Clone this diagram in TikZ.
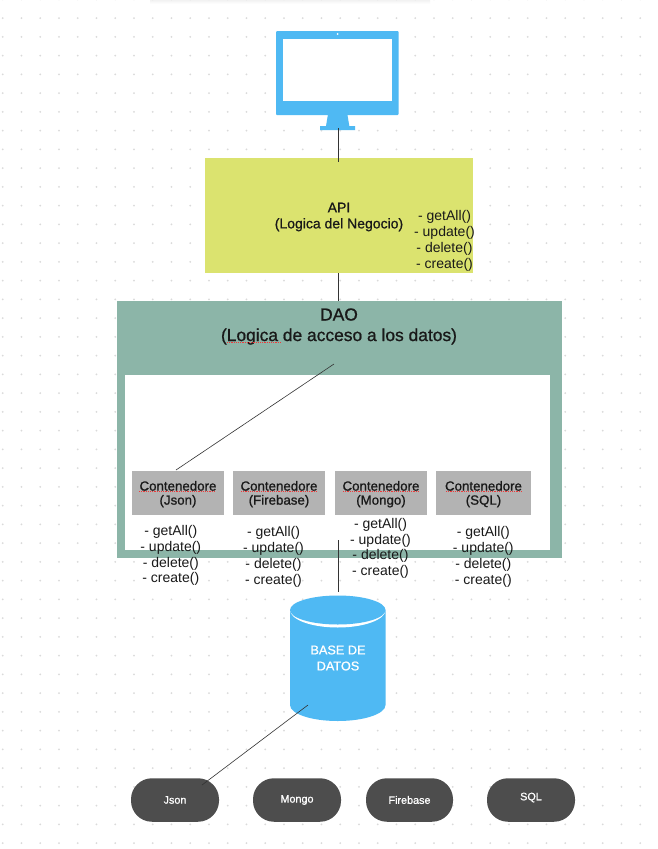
\documentclass[tikz,border=0pt]{standalone}
\usepackage{fontspec}
\setmainfont{Liberation Sans}
\definecolor{skyb}{HTML}{4FB9F3}
\definecolor{apig}{HTML}{DBE36F}
\definecolor{daog}{HTML}{8CB5A8}
\definecolor{contg}{HTML}{B3B3B3}
\definecolor{pillg}{HTML}{4D4D4D}
\definecolor{wire}{HTML}{333333}
\definecolor{griddot}{HTML}{DADADA}
\definecolor{spellred}{HTML}{F03A3A}
\newcommand{\medfont}{\addfontfeature{FakeBold=0.9}}
\tikzset{
  x=1pt,y=-1pt,
  wireline/.style={draw=wire,line width=0.8pt},
  contbox/.style={fill=contg,minimum width=92pt,minimum height=44pt,inner sep=0pt},
  contlabel/.style={inner sep=0pt,align=center,font=\fontsize{13.3}{14}\selectfont\medfont,text=black!90,yshift=-1.2pt},
  methods/.style={inner sep=0pt,align=center,font=\fontsize{14}{15.8}\selectfont,text=black!90},
  pill/.style={fill=pillg,rounded corners=21pt,minimum width=88pt,minimum height=43.5pt,inner sep=0pt,text=white,font=\fontsize{10.8}{12}\selectfont\medfont},
  spell/.style={draw=spellred,line width=0.9pt,dash pattern=on 1.2pt off 1pt},
}
\begin{document}
\begin{tikzpicture}
\useasboundingbox (0,0) rectangle (657,849);
\fill[white] (0,0) rectangle (657,849);
% faint shadow at the top edge
\shade[top color=black!5,bottom color=white,draw=none] (150,0) rectangle (430,4);
% dotted canvas
\foreach \i in {0,...,34}{\foreach \j in {0,...,45}{
  \fill[griddot] ({2.7+18.75*\i},{-0.7+18.75*\j}) circle (1);
}}
% monitor
\fill[skyb,rounded corners=1pt] (276,31) rectangle (398.7,115);
\fill[skyb] (328,114) -- (347.3,114) -- (349.3,126) -- (355,126) -- (355,130) -- (320,130) -- (320,126) -- (326,126) -- cycle;
\fill[white] (283,39) rectangle (392,101);
\fill[white] (337.6,34) circle (1);
\coordinate (monitorfoot) at (338.5,128);
% API
\node[fill=apig,minimum width=268pt,minimum height=115pt,inner sep=0pt] (api) at (339,215.5) {};
\node[inner sep=0pt,align=center,font=\fontsize{14}{16}\selectfont\medfont,text=black!90] (apilabel) at (339,217) {API\\(Logica del Negocio)};
\node[methods] (apimethods) at (444.5,241) {- getAll()\\- update()\\- delete()\\- create()};
% DAO
\node[fill=daog,minimum width=445pt,minimum height=257pt,inner sep=0pt] (dao) at (339.5,429.5) {};
\node[fill=white,minimum width=425pt,minimum height=175pt,inner sep=0pt] (daoinner) at (337.5,462.5) {};
\node[inner sep=0pt,align=center,font=\fontsize{17.4}{20.5}\selectfont\medfont,text=black!90] (daolabel) at (339,326.5) {DAO\\(Logica de acceso a los datos)};
\draw[spell] (227,342.5) -- (280,342.5);
\draw[wireline] (monitorfoot) -- (338.5,162);
\draw[wireline] (api.south -| monitorfoot) -- (dao.north -| monitorfoot);
% containers
\node[contbox,label={[contlabel]center:Contenedore\\(Json)}] (cjson) at (178,493) {};
\node[contbox,label={[contlabel]center:Contenedore\\(Firebase)}] (cfire) at (279,493) {};
\node[contbox,label={[contlabel]center:Contenedore\\(Mongo)}] (cmongo) at (381,493) {};
\node[contbox,minimum width=95pt,label={[contlabel]center:Contenedore\\(SQL)}] (csql) at (483.5,493) {};
\foreach \a/\b in {139/215,241/317,343/419,446/522}{\draw[spell] (\a,491.5) -- (\b,491.5);}
\coordinate (daoend) at (334,364);
\coordinate (jsonend) at (176,470);
\draw[wireline,line width=0.6pt] (daoend) -- (jsonend);
\node[methods] (mjson) at (170.8,555.5) {- getAll()\\- update()\\- delete()\\- create()};
\node[methods] (mfire) at (273.5,557) {- getAll()\\- update()\\- delete()\\- create()};
\node[methods] (mmongo) at (380.5,548.3) {- getAll()\\- update()\\- delete()\\- create()};
\node[methods] (msql) at (483.3,557) {- getAll()\\- update()\\- delete()\\- create()};
% database
\coordinate (dbtop) at (338.5,592);
\coordinate (daostub) at (338.5,540);
\draw[wireline] (daostub) -- (dbtop);
\fill[skyb] (290,610) -- (290,705) arc[start angle=180,end angle=0,x radius=47.75,y radius=16] -- (385.5,610) -- cycle;
\fill[white] (290,610) arc[start angle=180,end angle=0,x radius=47.75,y radius=17.5] -- cycle;
\fill[skyb] (337.75,610) ellipse [x radius=47.75,y radius=14.5];
\node[inner sep=0pt,align=center,text=white,font=\fontsize{12.7}{16}\selectfont\medfont] (db) at (338,658) {BASE DE\\DATOS};
% stores
\node[pill] (pjson) at (175,800) {Json};
\node[pill] (pmongo) at (297,800) {Mongo};
\node[pill,minimum width=87pt] (pfire) at (409.5,800) {Firebase};
\node[pill] (psql) at (531,800) {\raisebox{7pt}{SQL}};
\coordinate (dbend) at (308,705);
\coordinate (pjsonend) at (202,785);
\draw[wireline,line width=0.6pt] (dbend) -- (pjsonend);
\end{tikzpicture}
\end{document}
